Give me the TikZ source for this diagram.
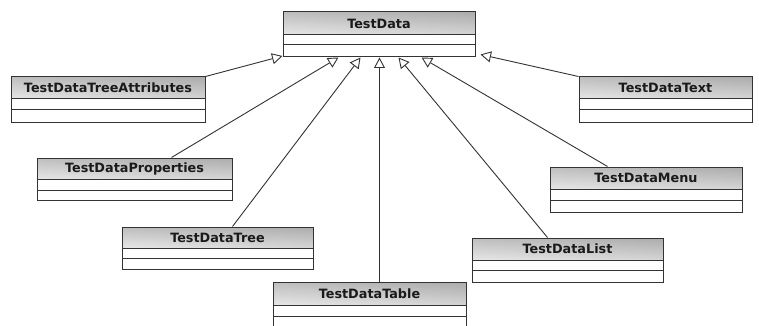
\documentclass[tikz,border=0pt]{standalone}
\usepackage{fontspec}
\setmainfont{DejaVu Sans}
\usetikzlibrary{arrows.meta,fit,calc}
\definecolor{edge}{HTML}{333333}
\definecolor{txt}{HTML}{1A1A1A}
\tikzset{
  boxframe/.style={draw=edge, line width=1pt, inner sep=0pt},
  hdrtext/.style={font=\bfseries\fontsize{12.8}{15}\selectfont, text=txt, inner sep=0pt},
  inh/.style={draw=edge, line width=0.9pt, -{Triangle[length=10.5pt, width=11pt, fill=white, line width=0.9pt]}},
}
% name, left, top, right, header bottom, middle line, bottom, text
\newcommand{\umlclass}[8]{%
  \fill[white] (#2,#3) rectangle (#4,#7);
  \shade[top color=gray!68, bottom color=gray!10] (#2,#3) rectangle (#4,#5);
  \shade[left color=gray!30, middle color=white, right color=gray!60, opacity=0.45] (#2,#3) rectangle (#4,#5);
  \draw[edge, line width=1pt] (#2,#5) -- (#4,#5);
  \draw[edge, line width=1pt] (#2,#6) -- (#4,#6);
  \node[boxframe, fit={(#2,#3) (#4,#7)}] (#1) {};
  \node[hdrtext] (#1-t) at ($(#2,#3)!0.5!(#4,#5)$) {#8};
}
\begin{document}
\begin{tikzpicture}[x=1pt, y=-1pt]
\clip (0,0) rectangle (759,326);
\fill[white] (0,0) rectangle (759,326);
\umlclass{td}{283}{12}{475}{35}{45}{57}{TestData}
\umlclass{tta}{11}{77}{205}{99}{109}{122}{TestDataTreeAttributes}
\umlclass{txt}{579}{77}{752}{99}{109}{122}{TestDataText}
\umlclass{tdp}{37}{158}{232}{179}{190}{200}{TestDataProperties}
\umlclass{tdm}{550}{167}{742}{189}{200}{212}{TestDataMenu}
\umlclass{tdt}{122}{227}{313}{248}{258}{269}{TestDataTree}
\umlclass{tdl}{472}{238}{663}{260}{270}{282}{TestDataList}
\umlclass{tab}{273}{282}{466}{305}{316}{330}{TestDataTable}
% inheritance connectors
\draw[inh] (tta.north east) -- ([yshift=1.5pt]td.south west);
\draw[inh] (txt.north west) -- ([xshift=5pt,yshift=3pt]td.south east);
\draw[inh] ([xshift=135pt]tdp.north west) -- ([xshift=56pt]td.south west);
\draw[inh] ([xshift=111pt]tdt.north west) -- ([xshift=78pt]td.south west);
\draw[inh] ([xshift=107pt]tab.north west) -- ([xshift=97pt]td.south west);
\draw[inh] ([xshift=76pt]tdl.north west) -- ([xshift=116pt]td.south west);
\draw[inh] ([xshift=58pt]tdm.north west) -- ([xshift=139pt]td.south west);
\end{tikzpicture}
\end{document}
